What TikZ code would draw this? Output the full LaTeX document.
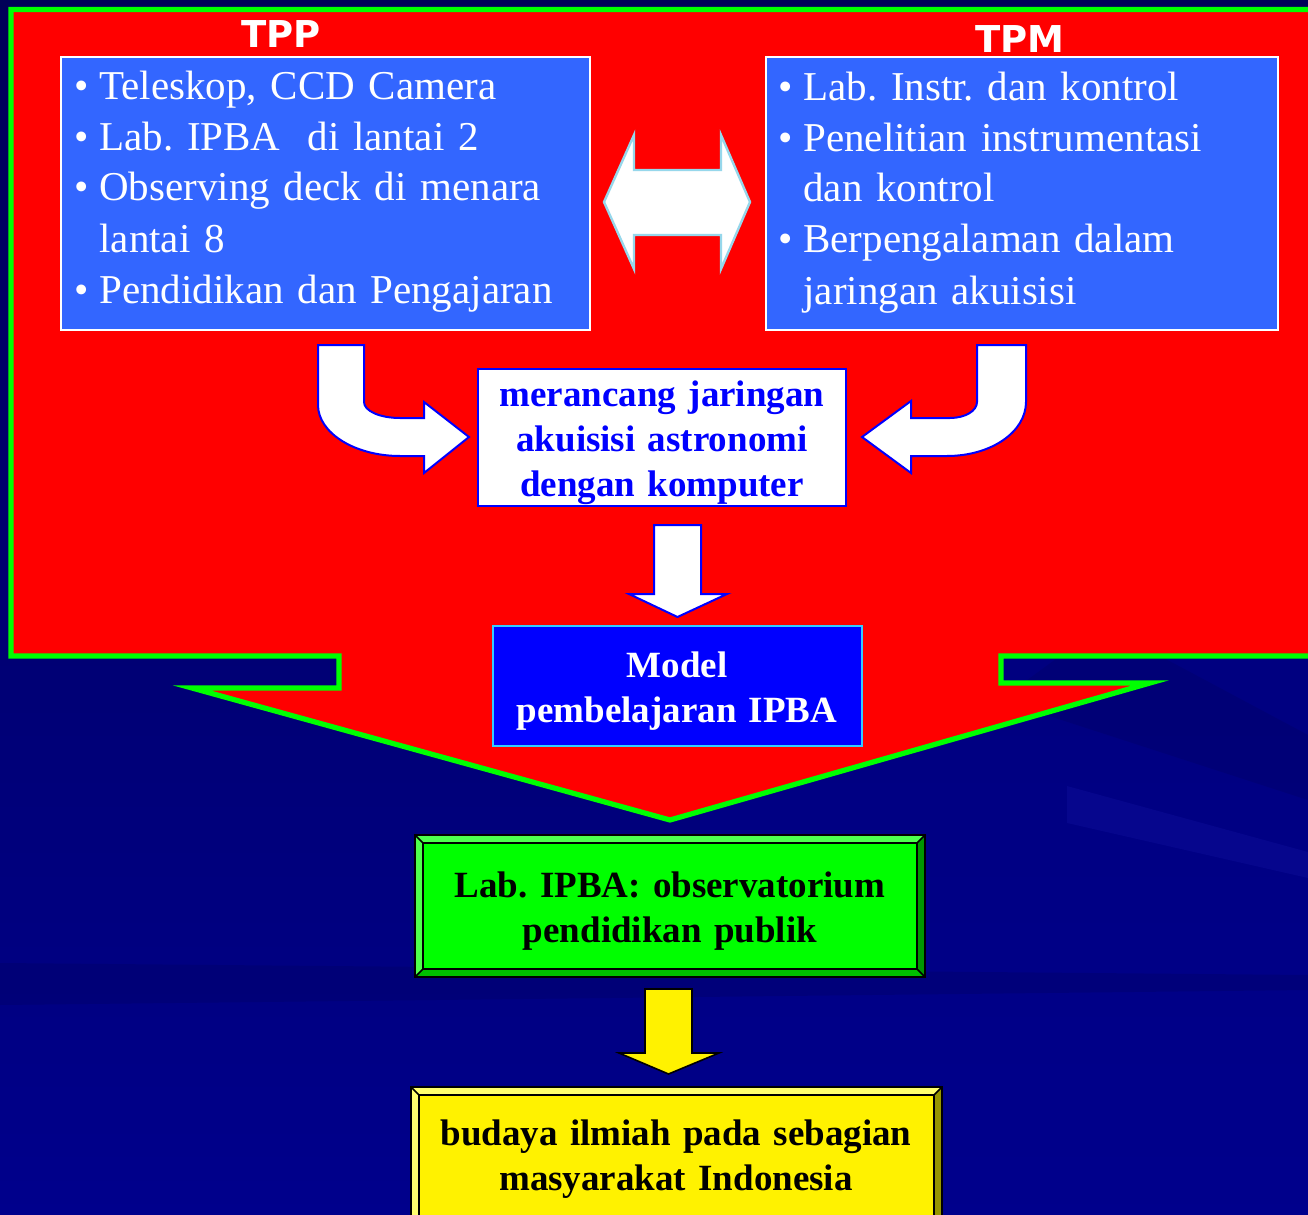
\documentclass[tikz,border=0pt]{standalone}
\usepackage{fontspec}
\setmainfont{Liberation Serif}
\newfontfamily\hdrfont{DejaVu Sans}
\usetikzlibrary{fit}
\frenchspacing
\definecolor{bgtop}{RGB}{0,0,88}
\definecolor{bgbot}{RGB}{0,0,140}
\definecolor{bgdark}{RGB}{0,0,100}
\definecolor{bglight}{RGB}{20,20,165}
\definecolor{brightgreen}{RGB}{0,255,0}
\definecolor{listblue}{RGB}{51,102,255}
\definecolor{arrowedge}{RGB}{150,215,235}
\definecolor{modelblue}{RGB}{0,0,255}
\definecolor{modeledge}{RGB}{51,204,255}
\definecolor{glight}{RGB}{77,255,77}
\definecolor{gdark}{RGB}{0,150,0}
\definecolor{gmid}{RGB}{0,190,0}
\definecolor{ylight}{RGB}{255,255,110}
\definecolor{ydark}{RGB}{150,150,0}
\newcommand\bitem{\makebox[12.5pt][l]{\textbullet}}
\newcommand\bcont{\hspace*{12.5pt}}
\begin{document}
\begin{tikzpicture}[x=0.5pt,y=-0.5pt,
  listbox/.style={fill=listblue,draw=white,line width=1pt,inner sep=0pt},
  listtext/.style={text=white,font=\fontsize{20.5}{25.5}\selectfont,align=left,text width=265pt,inner sep=0pt,anchor=base west},
  hdr/.style={text=white,font=\hdrfont\bfseries\fontsize{18.5}{22}\selectfont,inner sep=0pt,anchor=base},
  boldtext/.style={font=\bfseries\fontsize{18.5}{22.5}\selectfont,align=center,text width=250pt,inner sep=0pt,anchor=base},
  whitearrow/.style={fill=white,draw=modelblue,line width=1pt,line join=miter},
  outline/.style={draw=black,line width=1.2pt}]
\useasboundingbox (0,0) rectangle (1308,1215);
\clip (0,0) rectangle (1308,1215);
% background
\shade[top color=bgtop,bottom color=bgbot] (0,0) rectangle (1308,1215);
\fill[bgbot,opacity=0.5] (700,600) -- (1308,500) -- (1308,1215) -- (700,1215) -- cycle;
\fill[bgdark,opacity=0.35] (1060,656) -- (1160,656) -- (1308,735) -- (1308,800) -- (1000,700) -- cycle;
\fill[bglight,opacity=0.3] (1067,786) -- (1308,852) -- (1308,878) -- (1067,823) -- cycle;
\fill[bgdark,opacity=0.35] (0,963) -- (1308,975) -- (1308,990) -- (0,1005) -- cycle;
% big red arrow
\draw[fill=red,draw=brightgreen,line width=2.6pt,line join=miter,miter limit=20]
  (1330,9.5) -- (11,9.5) -- (11,656) -- (339,656) -- (339,688) -- (192,688)
  -- (670,820) -- (1150,683) -- (1001,683) -- (1001,656) -- (1330,656) -- cycle;
% headers
\node[hdr] (tpphdr) at (281,47) {TPP};
\node[hdr] (tpmhdr) at (1020,53) {TPM};
% list boxes
\node[listbox,fit={(61,57) (590,330)}] (tpp) {};
\node[listbox,fit={(766,57) (1278,330)}] (tpm) {};
\node[listtext] (tpplist) at (74,99) {\bitem Teleskop, CCD Camera\\
  \bitem Lab. IPBA\ \ di lantai 2\\
  \bitem Observing deck di menara\\
  \bcont lantai 8\\
  \bitem Pendidikan dan Pengajaran};
\node[listtext] (tpmlist) at (778,100) {\bitem Lab. Instr. dan kontrol\\
  \bitem Penelitian instrumentasi\\
  \bcont dan kontrol\\
  \bitem Berpengalaman dalam\\
  \bcont jaringan akuisisi};
% double arrow
\draw[fill=white,draw=arrowedge,line width=1.2pt,line join=miter]
  (604,202) -- (634,135) -- (634,170) -- (721,170) -- (721,135) -- (750,202)
  -- (721,269) -- (721,235) -- (634,235) -- (634,269) -- cycle;
% merancang box
\node[fill=white,draw=modelblue,line width=1pt,inner sep=0pt,fit={(478,369) (846,506)}] (design) {};
\node[boldtext,text=modelblue] (designtext) at (662,406) {merancang jaringan\\akuisisi astronomi\\dengan komputer};
% curved arrows
\draw[whitearrow] (318,345) -- (364,345) -- (364,402) .. controls (364,411) and (380,418) .. (400,418)
  -- (424,418) -- (424,402) -- (469,437) -- (424,473) -- (424,456) -- (400,456)
  .. controls (355,456) and (318,433) .. (318,405) -- cycle;
\draw[whitearrow] (1026,345) -- (977,345) -- (977,402) .. controls (977,411) and (965,418) .. (950,418)
  -- (911,418) -- (911,401) -- (862,437) -- (911,473) -- (911,456) -- (947,456)
  .. controls (991,456) and (1026,432) .. (1026,402) -- cycle;
% down arrow
\draw[whitearrow] (654,525) -- (701,525) -- (701,594) -- (727,594) -- (677.5,617) -- (629,594) -- (654,594) -- cycle;
% model box
\node[fill=modelblue,draw=modeledge,line width=1pt,inner sep=0pt,fit={(493,626) (862,746)}] (model) {};
\node[boldtext,text=white] (modeltext) at (677,677) {Model\\pembelajaran IPBA};
% green bevel box
\fill[glight] (415,835) -- (925,835) -- (917,843) -- (423,843) -- cycle;
\fill[glight] (415,835) -- (423,843) -- (423,969) -- (415,977) -- cycle;
\fill[gdark] (925,835) -- (925,977) -- (917,969) -- (917,843) -- cycle;
\fill[gmid] (415,977) -- (925,977) -- (917,969) -- (423,969) -- cycle;
\node[fill=brightgreen,draw=black,line width=0.8pt,inner sep=0pt,fit={(423,843) (917,969)}] (lab) {};
\draw[black,line width=0.8pt] (415,835) -- (423,843) (925,835) -- (917,843) (925,977) -- (917,969) (415,977) -- (423,969);
\draw[outline] (415,835) rectangle (925,977);
\node[boldtext,text=black] (labtext) at (670,897) {Lab. IPBA: observatorium\\pendidikan publik};
% yellow arrow
\draw[fill=yellow,draw=black,line width=0.8pt,line join=miter] (645,989) -- (692,989) -- (692,1053) -- (719,1053) -- (668.5,1074) -- (619,1053) -- (645,1053) -- cycle;
% yellow bevel box
\fill[ylight] (411,1087) -- (942,1087) -- (934,1095) -- (419,1095) -- cycle;
\fill[ylight] (411,1087) -- (419,1095) -- (419,1240) -- (411,1240) -- cycle;
\fill[ydark] (942,1087) -- (942,1240) -- (934,1240) -- (934,1095) -- cycle;
\node[fill=yellow,draw=black,line width=0.8pt,inner sep=0pt,fit={(419,1095) (934,1240)}] (culture) {};
\draw[black,line width=0.8pt] (411,1087) -- (419,1095) (942,1087) -- (934,1095);
\draw[outline] (411,1240) -- (411,1087) -- (942,1087) -- (942,1240);
\node[boldtext,text=black,text width=280pt] (culturetext) at (676,1145) {budaya ilmiah pada sebagian\\masyarakat Indonesia};
\end{tikzpicture}
\end{document}
